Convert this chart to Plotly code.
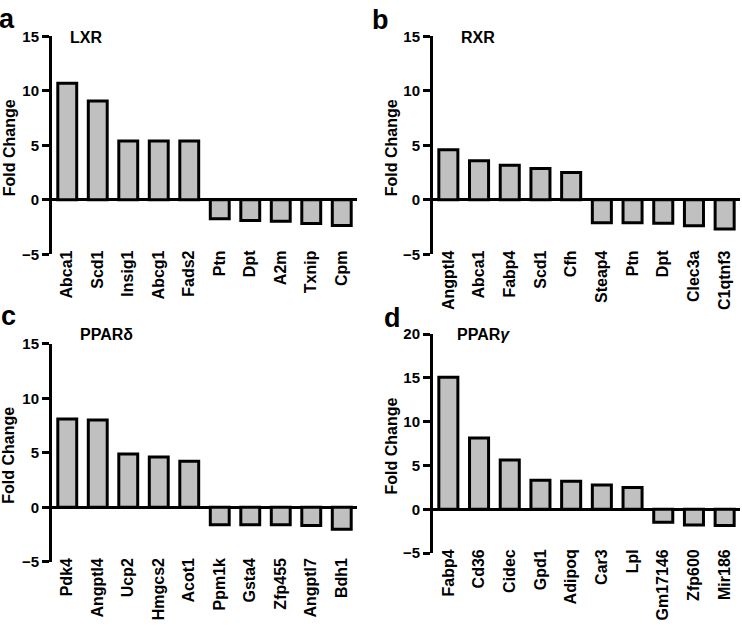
import plotly.graph_objects as go

W, H = 742, 638

# panel a - LXR
lxr_genes = ["Abca1", "Scd1", "Insig1", "Abcg1", "Fads2", "Ptn", "Dpt", "A2m", "Txnip", "Cpm"]
lxr_fold = [10.7, 9.05, 5.4, 5.4, 5.4, -1.75, -1.9, -1.98, -2.18, -2.36]

# panel b - RXR
rxr_genes = ["Angptl4", "Abca1", "Fabp4", "Scd1", "Cfh", "Steap4", "Ptn", "Dpt", "Clec3a", "C1qtnf3"]
rxr_fold = [4.6, 3.57, 3.16, 2.86, 2.51, -2.1, -2.1, -2.15, -2.39, -2.69]

# panel c - PPARdelta
ppard_genes = ["Pdk4", "Angptl4", "Ucp2", "Hmgcs2", "Acot1", "Ppm1k", "Gsta4", "Zfp455", "Angptl7", "Bdh1"]
ppard_fold = [8.1, 8.02, 4.9, 4.63, 4.22, -1.6, -1.6, -1.6, -1.66, -2.02]

# panel d - PPARgamma
pparg_genes = ["Fabp4", "Cd36", "Cidec", "Gpd1", "Adipoq", "Car3", "Lpl", "Gm17146", "Zfp600", "Mir186"]
pparg_fold = [15.07, 8.15, 5.63, 3.33, 3.19, 2.78, 2.48, -1.48, -1.78, -1.85]

panels = [
    ("a", "LXR", lxr_genes, lxr_fold, [-5, 15]),
    ("b", "RXR", rxr_genes, rxr_fold, [-5, 15]),
    ("c", "PPARδ", ppard_genes, ppard_fold, [-5, 15]),
    ("d", "PPAR<i>γ</i>", pparg_genes, pparg_fold, [-5, 20]),
]

# pixel boxes of each plot area: left, right, top, bottom
boxes = [
    (52, 357, 28, 252),
    (433, 740, 28, 252),
    (52, 357, 344, 568),
    (433, 740, 334, 559),
]
letter_pos = [(7, 10), (380, 11), (8, 315), (392, 317)]
name_pos = [(68, 29), (459, 29), (78, 334), (455, 334)]
ytitle_x = [9, 391, 9, 392]

FONT = "Liberation Sans, Arial, sans-serif"

fig = go.Figure()
annots = []
for i, (letter, name, genes, vals, yr) in enumerate(panels):
    n = "" if i == 0 else str(i + 1)
    l, r, t, b = boxes[i]
    fig.add_trace(go.Bar(
        x=genes, y=vals, xaxis="x" + n, yaxis="y" + n,
        marker=dict(color="#c0c0c0", line=dict(color="black", width=3)),
        showlegend=False,
    ))
    fig.layout["xaxis" + n] = dict(
        domain=[l / W, r / W], anchor="y" + n, range=[-0.5, 9.5],
        showline=False, showgrid=False, ticks="", tickangle=-90,
        ticklabelstandoff=-8,
        tickfont=dict(family=FONT, size=16, color="black", weight="bold"),
    )
    fig.layout["yaxis" + n] = dict(
        domain=[1 - b / H, 1 - t / H], anchor="x" + n, range=yr, dtick=5,
        showline=True, linecolor="black", linewidth=3, mirror=False,
        ticks="outside", ticklen=7, tickwidth=3, tickcolor="black",
        showgrid=False, zeroline=True, zerolinecolor="black", zerolinewidth=3,
        tickfont=dict(family=FONT, size=15, color="black", weight="bold"),
    )
    annots.append(dict(
        text="Fold Change", textangle=-90, xref="paper", yref="paper",
        xanchor="center", yanchor="middle",
        x=ytitle_x[i] / W, y=1 - ((t + b) / 2 + 3) / H, showarrow=False,
        font=dict(family=FONT, size=16, color="black", weight="bold"),
    ))
    nx, ny = name_pos[i]
    annots.append(dict(
        text=name, xref="paper", yref="paper", xanchor="left", yanchor="middle",
        x=nx / W, y=1 - ny / H, showarrow=False,
        font=dict(family=FONT, size=16, color="black", weight="bold"),
    ))
    lx, ly = letter_pos[i]
    annots.append(dict(
        text=letter, xref="paper", yref="paper",
        xanchor="center", yanchor="middle",
        x=lx / W, y=1 - ly / H, showarrow=False,
        font=dict(family=FONT, size=27, color="black", weight="bold"),
    ))

fig.update_layout(
    width=W, height=H, margin=dict(l=0, r=0, t=0, b=0),
    plot_bgcolor="white", paper_bgcolor="white",
    bargap=0.38, annotations=annots,
)
fig.write_html("out.html", config={"displayModeBar": False},
               post_script="document.body.style.margin='0';")
